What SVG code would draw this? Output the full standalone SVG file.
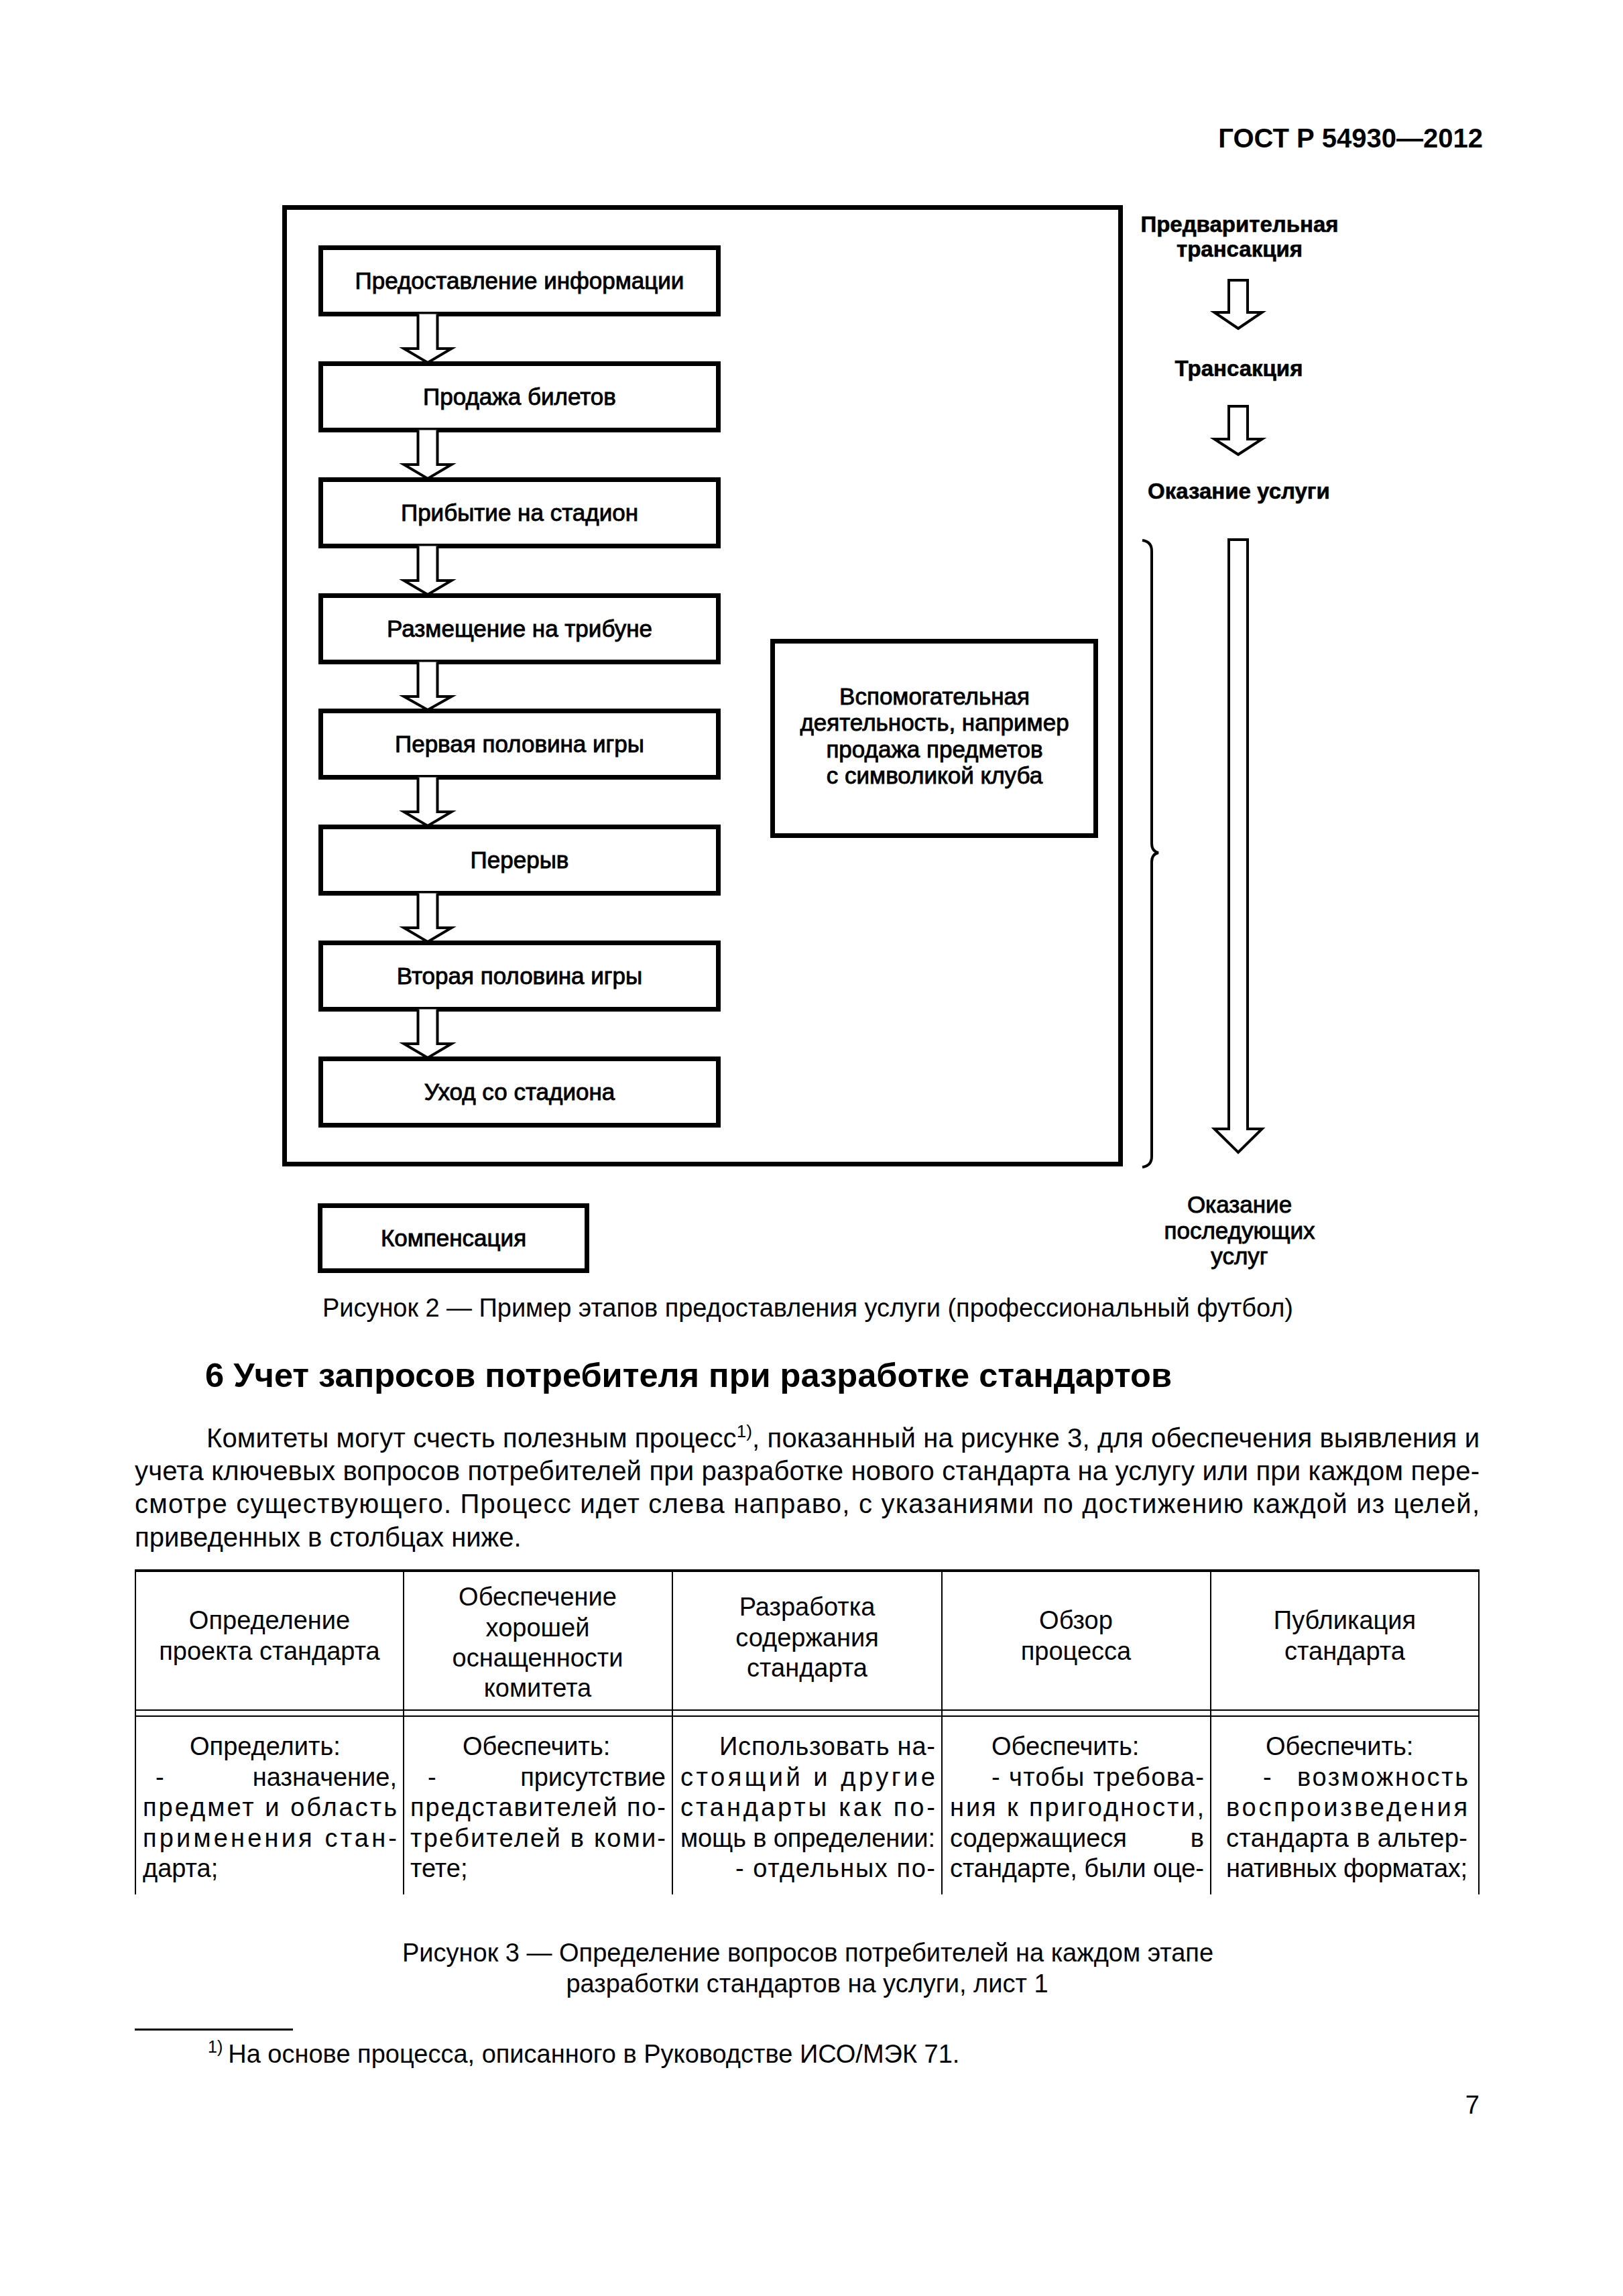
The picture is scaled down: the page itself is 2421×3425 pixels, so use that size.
<svg xmlns="http://www.w3.org/2000/svg" width="2421" height="3425" viewBox="0 0 2421 3425">
<style>
.box{fill:#fff;stroke:#000;stroke-width:7}
.lbl{font-family:"Liberation Sans",Arial,sans-serif;font-size:35px;text-anchor:middle;fill:#000;stroke:#000;stroke-width:0.9}
.rb{font-family:"Liberation Sans",Arial,sans-serif;font-size:33px;font-weight:bold;text-anchor:middle;fill:#000;stroke:#000;stroke-width:0.6}
.arr{fill:#fff;stroke:#000;stroke-width:4;stroke-linejoin:miter}
.br{fill:none;stroke:#000;stroke-width:4}
.t{font-family:"Liberation Sans",Arial,sans-serif;font-size:38px;fill:#000}
.p{font-family:"Liberation Sans",Arial,sans-serif;font-size:40px;fill:#000}
.c{text-anchor:middle}
.e{text-anchor:end}
.tl{stroke:#000;stroke-width:2}
</style>
<rect width="2421" height="3425" fill="#fff"/>
<text x="2212" y="220" font-family="Liberation Sans,Arial,sans-serif" font-size="40" font-weight="bold" text-anchor="end">ГОСТ Р 54930—2012</text>

<g id="frame"><rect x="424.5" y="309.5" width="1247" height="1427" fill="none" stroke="#000" stroke-width="7"/></g>

<g id="n1"><rect class="box" x="478.5" y="369.5" width="593" height="99"/><text class="lbl" x="775" y="431">Предоставление информации</text></g>
<g id="n2"><rect class="box" x="478.5" y="542.5" width="593" height="99"/><text class="lbl" x="775" y="604">Продажа билетов</text></g>
<g id="n3"><rect class="box" x="478.5" y="715.5" width="593" height="99"/><text class="lbl" x="775" y="777">Прибытие на стадион</text></g>
<g id="n4"><rect class="box" x="478.5" y="888.5" width="593" height="99"/><text class="lbl" x="775" y="950">Размещение на трибуне</text></g>
<g id="n5"><rect class="box" x="478.5" y="1060.5" width="593" height="99"/><text class="lbl" x="775" y="1122">Первая половина игры</text></g>
<g id="n6"><rect class="box" x="478.5" y="1233.5" width="593" height="99"/><text class="lbl" x="775" y="1295">Перерыв</text></g>
<g id="n7"><rect class="box" x="478.5" y="1406.5" width="593" height="99"/><text class="lbl" x="775" y="1468">Вторая половина игры</text></g>
<g id="n8"><rect class="box" x="478.5" y="1579.5" width="593" height="99"/><text class="lbl" x="775" y="1641">Уход со стадиона</text></g>

<g id="aux"><rect class="box" x="1152.5" y="956.5" width="482" height="290"/>
<text class="lbl" x="1394" y="1051">Вспомогательная</text>
<text class="lbl" x="1394" y="1090">деятельность, например</text>
<text class="lbl" x="1394" y="1130">продажа предметов</text>
<text class="lbl" x="1394" y="1169">с символикой клуба</text></g>

<g id="comp"><rect class="box" x="477.5" y="1798.5" width="398" height="97"/><text class="lbl" x="676.5" y="1859">Компенсация</text></g>

<g id="phase1"><text class="rb" x="1849" y="346">Предварительная</text><text class="rb" x="1849" y="383">трансакция</text></g>
<g id="phase2"><text class="rb" x="1848" y="561">Трансакция</text></g>
<g id="phase3"><text class="rb" x="1848" y="744">Оказание услуги</text></g>
<g id="phase4"><text class="lbl" x="1849" y="1809">Оказание</text><text class="lbl" x="1849" y="1848">последующих</text><text class="lbl" x="1849" y="1886">услуг</text></g>

<g id="connectors">
<path class="arr" d="M623.5,468.5V520H602.5L638,541L673.5,520H652.5V468.5"/>
<path class="arr" d="M623.5,641.5V693H602.5L638,714L673.5,693H652.5V641.5"/>
<path class="arr" d="M623.5,814.5V866H602.5L638,887L673.5,866H652.5V814.5"/>
<path class="arr" d="M623.5,987.5V1039H602.5L638,1059L673.5,1039H652.5V987.5"/>
<path class="arr" d="M623.5,1159.5V1211H602.5L638,1232L673.5,1211H652.5V1159.5"/>
<path class="arr" d="M623.5,1332.5V1384H602.5L638,1405L673.5,1384H652.5V1332.5"/>
<path class="arr" d="M623.5,1505.5V1557H602.5L638,1578L673.5,1557H652.5V1505.5"/>
<path class="arr" d="M1833,418H1861V466H1882.5L1847,490L1811.5,466H1833Z"/>
<path class="arr" d="M1833,606H1861V655H1882.5L1847,678L1811.5,655H1833Z"/>
<path class="arr" d="M1833,805H1861V1684H1882.5L1847,1719L1811.5,1684H1833Z"/>
<path class="br" d="M1704,806Q1718,808 1718,822L1718,1258Q1718,1270 1728,1272Q1718,1274 1718,1286L1718,1725Q1718,1739 1704,1741"/>
</g>

<text class="t" x="481" y="1964" textLength="1448" lengthAdjust="spacing">Рисунок 2 — Пример этапов предоставления услуги (профессиональный футбол)</text>

<text x="306" y="2069" font-family="Liberation Sans,Arial,sans-serif" font-size="50" font-weight="bold" textLength="1442" lengthAdjust="spacingAndGlyphs">6 Учет запросов потребителя при разработке стандартов</text>

<text class="p" x="308" y="2159" textLength="1899" lengthAdjust="spacing">Комитеты могут счесть полезным процесс<tspan font-size="26" dy="-15">1)</tspan><tspan dy="15">, показанный на рисунке 3, для обеспечения выявления и</tspan></text>
<text class="p" x="201" y="2208" textLength="2006" lengthAdjust="spacing">учета ключевых вопросов потребителей при разработке нового стандарта на услугу или при каждом пере-</text>
<text class="p" x="201" y="2257" textLength="2006" lengthAdjust="spacing">смотре существующего. Процесс идет слева направо, с указаниями по достижению каждой из целей,</text>
<text class="p" x="201" y="2307">приведенных в столбцах ниже.</text>

<g id="table">
<line x1="201" y1="2343" x2="2207" y2="2343" stroke="#000" stroke-width="4"/>
<line class="tl" x1="201" y1="2551" x2="2207" y2="2551" stroke-width="3"/>
<line class="tl" x1="201" y1="2560" x2="2207" y2="2560" stroke-width="3"/>
<line class="tl" x1="202" y1="2341" x2="202" y2="2826"/>
<line class="tl" x1="602" y1="2341" x2="602" y2="2826"/>
<line class="tl" x1="1003" y1="2341" x2="1003" y2="2826"/>
<line class="tl" x1="1405" y1="2341" x2="1405" y2="2826"/>
<line class="tl" x1="1806" y1="2341" x2="1806" y2="2826"/>
<line class="tl" x1="2206" y1="2341" x2="2206" y2="2826"/>

<text class="t c" x="402" y="2430">Определение</text>
<text class="t c" x="402" y="2476">проекта стандарта</text>
<text class="t c" x="802" y="2395">Обеспечение</text>
<text class="t c" x="802" y="2441">хорошей</text>
<text class="t c" x="802" y="2486">оснащенности</text>
<text class="t c" x="802" y="2531">комитета</text>
<text class="t c" x="1204" y="2410">Разработка</text>
<text class="t c" x="1204" y="2456">содержания</text>
<text class="t c" x="1204" y="2501">стандарта</text>
<text class="t c" x="1605" y="2430">Обзор</text>
<text class="t c" x="1605" y="2476">процесса</text>
<text class="t c" x="2006" y="2430">Публикация</text>
<text class="t c" x="2006" y="2476">стандарта</text>

<text class="t" x="283" y="2618">Определить:</text>
<text class="t" x="232" y="2664">-</text><text class="t e" x="592" y="2664">назначение,</text>
<text class="t" x="213" y="2709" textLength="379" lengthAdjust="spacing">предмет и область</text>
<text class="t" x="213" y="2755" textLength="379" lengthAdjust="spacing">применения стан-</text>
<text class="t" x="213" y="2800">дарта;</text>

<text class="t" x="690" y="2618">Обеспечить:</text>
<text class="t" x="638" y="2664">-</text><text class="t e" x="993" y="2664">присутствие</text>
<text class="t" x="612" y="2709" textLength="381" lengthAdjust="spacing">представителей по-</text>
<text class="t" x="612" y="2755" textLength="381" lengthAdjust="spacing">требителей в коми-</text>
<text class="t" x="612" y="2800">тете;</text>

<text class="t" x="1073" y="2618" textLength="322" lengthAdjust="spacing">Использовать на-</text>
<text class="t" x="1015" y="2664" textLength="380" lengthAdjust="spacing">стоящий и другие</text>
<text class="t" x="1015" y="2709" textLength="380" lengthAdjust="spacing">стандарты как по-</text>
<text class="t" x="1015" y="2755" textLength="380" lengthAdjust="spacing">мощь в определении:</text>
<text class="t" x="1097" y="2800" textLength="298" lengthAdjust="spacing">- отдельных по-</text>

<text class="t" x="1479" y="2618">Обеспечить:</text>
<text class="t" x="1479" y="2664" textLength="317" lengthAdjust="spacing">- чтобы требова-</text>
<text class="t" x="1417" y="2709" textLength="379" lengthAdjust="spacing">ния к пригодности,</text>
<text class="t" x="1417" y="2755">содержащиеся</text><text class="t e" x="1796" y="2755">в</text>
<text class="t" x="1417" y="2800" textLength="379" lengthAdjust="spacing">стандарте, были оце-</text>

<text class="t" x="1888" y="2618">Обеспечить:</text>
<text class="t" x="1884" y="2664">-</text><text class="t e" x="2190" y="2664" textLength="255" lengthAdjust="spacing">возможность</text>
<text class="t" x="1829" y="2709" textLength="360" lengthAdjust="spacing">воспроизведения</text>
<text class="t" x="1829" y="2755" textLength="360" lengthAdjust="spacing">стандарта в альтер-</text>
<text class="t" x="1829" y="2800" textLength="360" lengthAdjust="spacing">нативных форматах;</text>
</g>

<text class="t c" x="1205" y="2926">Рисунок 3 — Определение вопросов потребителей на каждом этапе</text>
<text class="t c" x="1204" y="2972">разработки стандартов на услуги, лист 1</text>

<rect x="201" y="3026" width="236" height="3" fill="#000"/>
<text class="t" x="310" y="3077"><tspan font-size="25" dy="-15">1)</tspan><tspan dx="8" dy="15">На основе процесса, описанного в Руководстве ИСО/МЭК 71.</tspan></text>

<text class="t e" x="2207" y="3153">7</text>
</svg>
